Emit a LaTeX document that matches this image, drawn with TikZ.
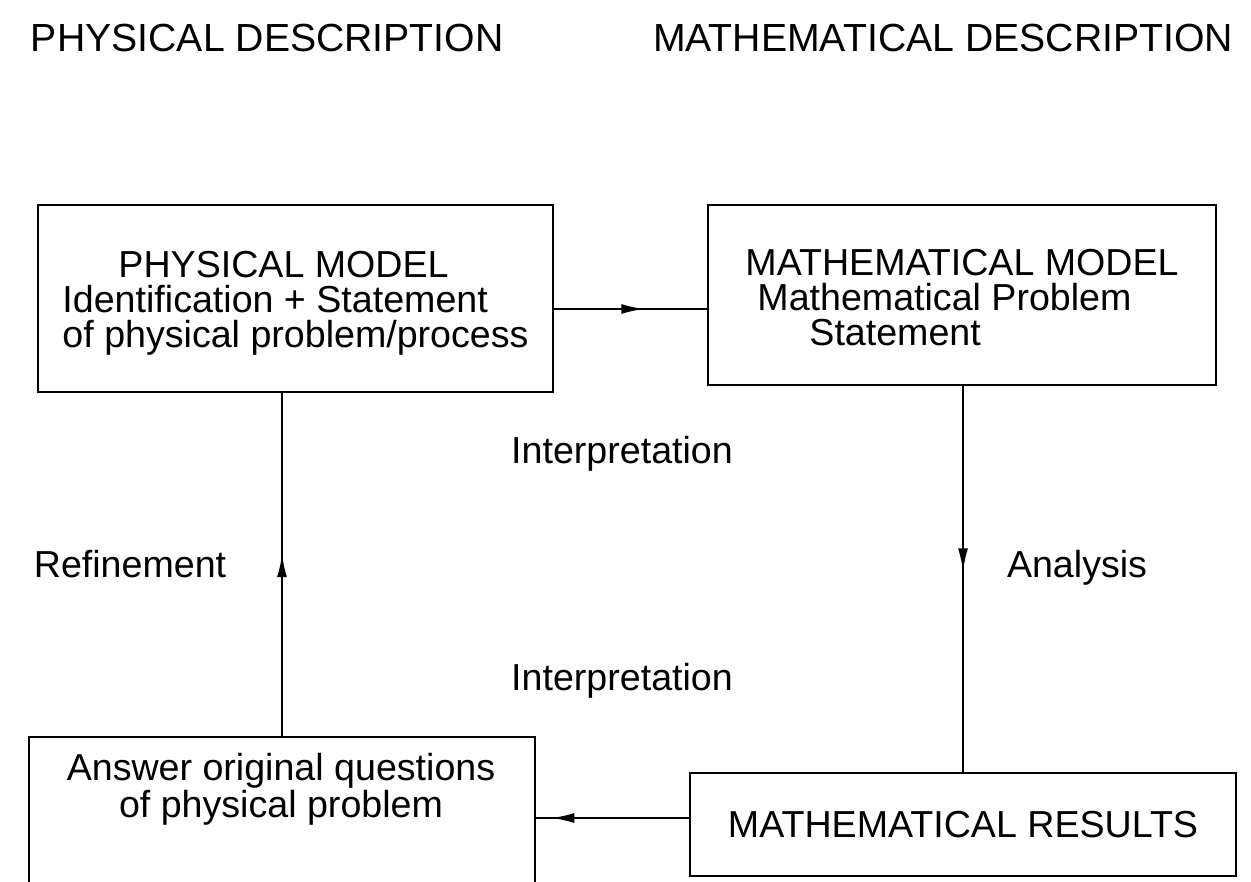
\documentclass[tikz,border=0pt]{standalone}
\usepackage{fontspec}
\setmainfont{Liberation Sans}
\usetikzlibrary{positioning,arrows.meta,decorations.markings}

\tikzset{
  box/.style={draw, line width=1pt, inner sep=0pt, font=\fontsize{18.8}{17.5}\selectfont},
  lbl/.style={inner sep=0pt, font=\fontsize{18.8}{17.5}\selectfont},
  head/.style={inner sep=0pt, font=\fontsize{19.6}{22}\selectfont},
  midarrow/.style={postaction={decorate}, decoration={markings,
      mark=at position #1 with {\arrow{Latex[length=11.5pt,width=5pt]}}}},
}

\begin{document}
\begin{tikzpicture}[x=0.5pt,y=-0.5pt,line width=1pt]
		\clip (0,0) rectangle (1251,882);
		%Column headings
		\node[head, anchor=base west] (physhead) at (30,52) {PHYSICAL DESCRIPTION};
		\node[head, anchor=base west] (mathhead) at (652,52) {MATHEMATICAL DESCRIPTION};
		
		%Boxes
		\node[box, minimum width=257.5pt, minimum height=93.5pt] (physmodel) at (295.5,298.5) {};
		\node[box, minimum width=254pt, minimum height=90pt] (mathmodel) at (962,295) {};
		\node[box, minimum width=273pt, minimum height=51.5pt] (results) at (963,824.5) {MATHEMATICAL RESULTS};
		\node[box, minimum width=253pt, minimum height=90pt, anchor=north west] (ans) at (28,736) {};
		
		%Box texts
		\node[lbl, align=left] (phystext) at ([yshift=-2.5pt]physmodel.center)
			{\hspace*{28pt}PHYSICAL MODEL\\Identification + Statement\\of physical problem/process};
		\node[lbl, align=left] (mathtext) at ([yshift=-1.5pt]mathmodel.center)
			{MATHEMATICAL MODEL\\\hspace*{6pt}Mathematical Problem\\\hspace*{32pt}Statement};
		\node[lbl, align=center] (anstext) at (281,789) {Answer original questions\\of physical problem};
		
		%Labels
		\node[lbl, anchor=base] (interp1) at (622,463) {Interpretation};
		\node[lbl, anchor=base] (interp2) at (622,690) {Interpretation};
		\node[lbl, anchor=base] (refine) at (130,577) {Refinement};
		\node[lbl, anchor=base] (analysis) at (1077,577) {Analysis};
		
		%Connectors
		\coordinate (topa) at ([yshift=-5.25pt]physmodel.east);
		\coordinate (bota) at ([yshift=3.25pt]results.west);
		\draw[midarrow=0.59] (topa) -- (topa -| mathmodel.west); %model -> math model
		\draw[midarrow=0.48] (results.north |- mathmodel.south) -- (results.north); %analysis
		\draw[midarrow=0.9] (bota) -- (bota -| ans.east); %results -> answer
		\draw[midarrow=0.53] (ans.north) -- (ans.north |- physmodel.south); %refinement
		
	\end{tikzpicture}
\end{document}
